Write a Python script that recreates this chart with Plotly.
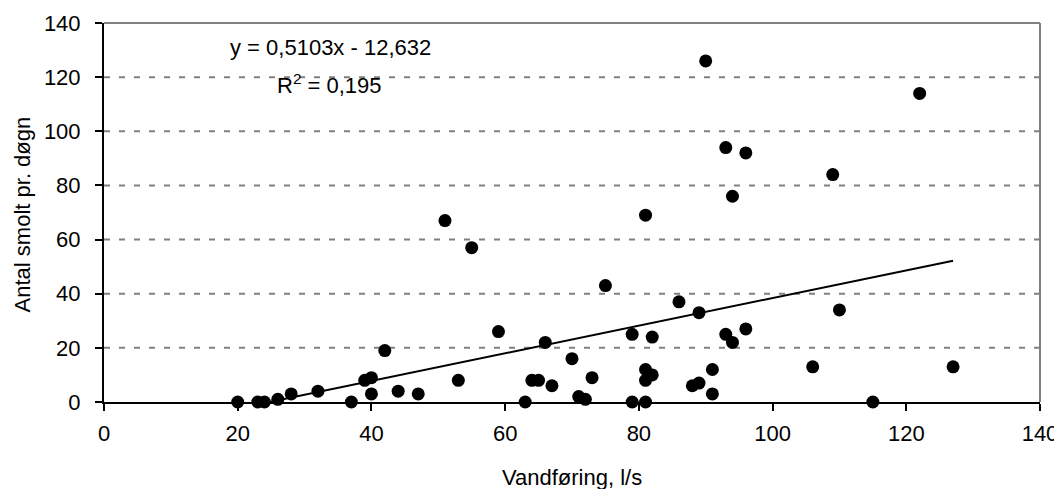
import numpy as np
import plotly.graph_objects as go

# Data
vandforing = [20, 23, 24, 26, 28, 32, 37, 39, 40, 40, 42, 44, 47, 51, 53, 55, 59,
              63, 64, 65, 66, 67, 70, 71, 72, 73, 75, 79, 79, 81, 81, 81, 81, 82,
              82, 86, 88, 89, 89, 90, 91, 91, 93, 93, 94, 94, 96, 96, 106, 109,
              110, 115, 122, 127]
antal_smolt = [0, 0, 0, 1, 3, 4, 0, 8, 9, 3, 19, 4, 3, 67, 8, 57, 26,
               0, 8, 8, 22, 6, 16, 2, 1, 9, 43, 25, 0, 69, 12, 8, 0, 24,
               10, 37, 6, 7, 33, 126, 12, 3, 94, 25, 76, 22, 92, 27, 13, 84,
               34, 0, 114, 13]

# Trendline coefficients (as printed on the chart)
slope = 0.5103
intercept = -12.632
r2_text = "0,195"

x_ticks = [0, 20, 40, 60, 80, 100, 120, 140]
y_ticks = [0, 20, 40, 60, 80, 100, 120, 140]

x_title = "Vandføring, l/s"
y_title = "Antal smolt pr. døgn"

font_family = "Liberation Sans, Arial, sans-serif"
FS = 22

fig = go.Figure()

# dashed grey gridlines
for yv in y_ticks[1:]:
    fig.add_shape(type="line", xref="x", yref="y", x0=0, x1=140, y0=yv, y1=yv,
                  line=dict(color="#808080", width=2, dash="6px,9px"), layer="below")

tx = np.array([min(vandforing), max(vandforing)], dtype=float)
ty = slope * tx + intercept
fig.add_trace(go.Scatter(x=tx, y=ty, mode="lines",
                         line=dict(color="black", width=2), hoverinfo="skip",
                         showlegend=False))

fig.add_trace(go.Scatter(x=vandforing, y=antal_smolt, mode="markers",
                         marker=dict(color="black", size=13, line=dict(width=0)),
                         cliponaxis=False, showlegend=False))

fig.add_annotation(x=33.9, y=131, xref="x", yref="y", showarrow=False,
                   text="y = 0,5103x - 12,632",
                   font=dict(family=font_family, size=FS, color="black"))
fig.add_annotation(x=33.7, y=117.5, xref="x", yref="y", showarrow=False,
                   text="R<sup>2</sup> = " + r2_text,
                   font=dict(family=font_family, size=FS, color="black"))

# axis titles
fig.add_annotation(x=0.5, y=-0.198, xref="paper", yref="paper", showarrow=False,
                   xanchor="center", yanchor="middle", text=x_title,
                   font=dict(family=font_family, size=FS, color="black"))
fig.add_annotation(x=-0.0876, y=0.495, xref="paper", yref="paper", showarrow=False,
                   xanchor="center", yanchor="middle", text=y_title, textangle=-90,
                   font=dict(family=font_family, size=FS, color="black"))

# the page body adds an 8px offset, so the figure is 8px smaller and margins shifted
fig.update_layout(
    width=1054, height=481,
    margin=dict(l=96, r=22, t=15, b=87),
    paper_bgcolor="white", plot_bgcolor="white",
    font=dict(family=font_family, size=FS, color="black"),
    xaxis=dict(range=[0, 140], tickvals=x_ticks, showgrid=False, zeroline=False,
               showline=True, linecolor="black", linewidth=2,
               ticks="outside", ticklen=7, tickwidth=2, tickcolor="black",
               ticklabelstandoff=4, automargin=False,
               tickfont=dict(family=font_family, size=FS, color="black")),
    yaxis=dict(range=[0, 140], tickvals=y_ticks, showgrid=False, zeroline=False,
               showline=True, linecolor="black", linewidth=2,
               ticks="outside", ticklen=7, tickwidth=2, tickcolor="black",
               ticklabelstandoff=10, automargin=False,
               tickfont=dict(family=font_family, size=FS, color="black")),
)

# plot-area border (grey, top and right)
fig.add_shape(type="line", xref="paper", yref="paper", x0=0, x1=1, y0=1, y1=1,
              line=dict(color="#808080", width=2), layer="below")
fig.add_shape(type="line", xref="paper", yref="paper", x0=1, x1=1, y0=0, y1=1,
              line=dict(color="#808080", width=2), layer="below")

fig.write_html("out.html")
